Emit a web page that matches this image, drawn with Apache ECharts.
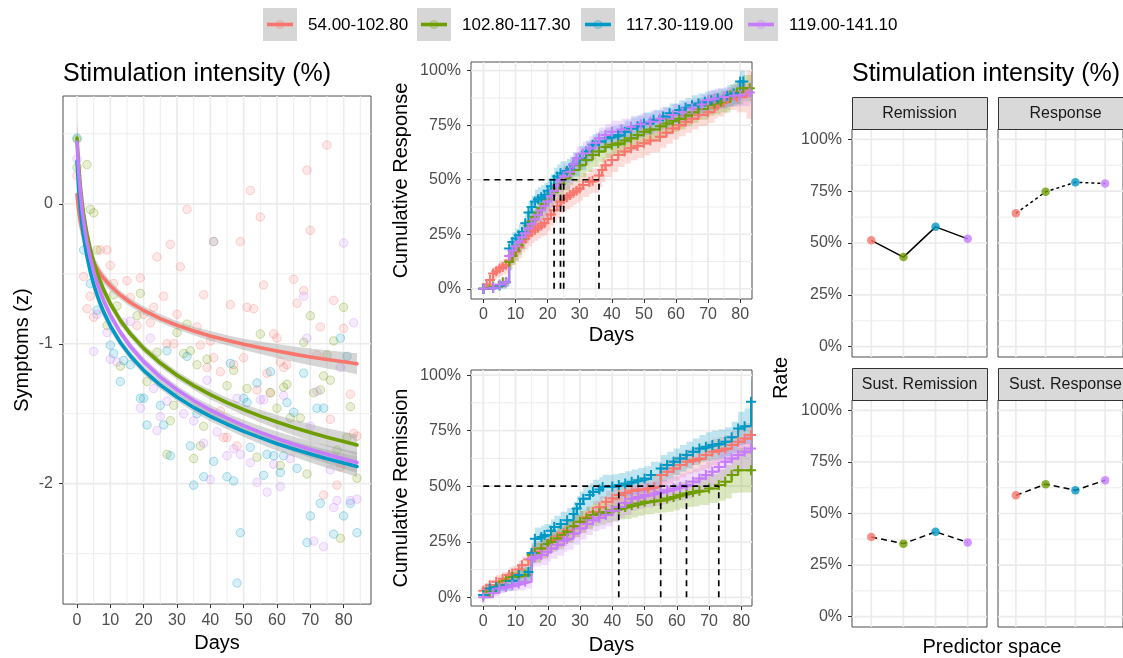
<!DOCTYPE html>
<html><head><meta charset="utf-8">
<script src="https://cdn.jsdelivr.net/npm/echarts@6/dist/echarts.min.js"></script>
<style>html,body{margin:0;padding:0;background:#fff}#c{width:1123px;height:658px}</style>
</head><body><div id="c"></div>
<script>
// ---------------- DATA ----------------
const groups = ['54.00-102.80', '102.80-117.30', '117.30-119.00', '119.00-141.10'];
const facetNames = ['Remission', 'Response', 'Sust. Remission', 'Sust. Response'];
const dayTicks = [0, 10, 20, 30, 40, 50, 60, 70, 80];
const symptomTicks = [-2, -1, 0];
const pctTicks = [0, 0.25, 0.5, 0.75, 1];

// Symptoms scatter [day, z]
const scatterRed = [[0,0.2],[33,-0.04],[7,-0.33],[9,-0.33],[28,-0.29],[24,-0.38],[10,-0.44],[31,-0.45],[2,-0.52],[11,-0.57],[15,-0.55],[19,-0.53],[4,-0.66],[16,-0.67],[26,-0.66],[38,-0.65],[3,-0.75],[23,-0.74],[5,-0.81],[20,-0.79],[30,-0.79],[18,-0.87],[22,-0.85],[36,-0.88],[27,-1.0],[29,-1.0],[40,-0.98],
  [75,0.42],[69,0.24],[52,0.095],[55,-0.095],[70,-0.19],[49,-0.27],[65,-0.54],[56,-0.58],[68,-0.62],[46,-0.72],[51,-0.74],[53,-0.75],[66,-0.71],[77,-0.69],[73,-0.88],[80,-0.89],[59,-0.93],[60,-0.96],
  [37,-1.01],[41,-1.1],[39,-1.17],[43,-1.2],[47,-1.15],[50,-1.1],[54,-1.33],[57,-1.21],[61,-1.13],[62,-1.17],[63,-1.15],[72,-1.08],[58,-1.35],[82,-1.36],[76,-1.54],[43,-1.48],[44,-1.67],[45,-1.67],[48,-1.73],[83,-1.64],[84,-1.66],[79,-1.88],[78,-2.01],[74,-2.08]];
const scatterGreen = [[0,0.46],[3,0.28],[0,0.26],[4,-0.04],[5,-0.065],[6,-0.33],[19,-0.64],[11,-0.65],[12,-0.73],[18,-0.8],[9,-0.87],[30,-0.92],[33,-0.86],[41,-0.27],
  [80,-0.74],[70,-0.8],[55,-0.93],[68,-0.99],[77,-0.98],
  [13,-1.16],[24,-1.06],[32,-1.07],[34,-1.05],[36,-1.15],[39,-1.11],[21,-1.27],[29,-1.44],[28,-1.55],[38,-1.59],[37,-1.73],[27,-1.79],[35,-1.82],
  [47,-1.19],[51,-1.32],[74,-1.23],[76,-1.26],[75,-1.08],[45,-1.3],[58,-1.35],[63,-1.29],[62,-1.31],[71,-1.35],[73,-1.33],[82,-1.45],[60,-1.46],[64,-1.53],[67,-1.53],[81,-1.67],[54,-1.81],[61,-1.87],[69,-1.93],[78,-1.76],[84,-1.96],[79,-2.39]];
const scatterTeal = [[0,0.47],[2,-0.33],[4,-0.57],[6,-0.76],[79,-0.96],
  [10,-1.01],[11,-1.07],[14,-1.12],[16,-1.15],[13,-1.27],[27,-1.05],[33,-1.09],[19,-1.39],[20,-1.39],[25,-1.44],[36,-1.5],[21,-1.58],[26,-1.58],[34,-1.73],[28,-1.8],[41,-1.84],[38,-1.95],[35,-2.01],
  [46,-1.14],[54,-1.28],[58,-1.2],[68,-1.21],[81,-1.09],[72,-1.46],[74,-1.46],[50,-1.39],[51,-1.42],[63,-1.42],[65,-1.49],[52,-1.74],[57,-1.79],[59,-1.8],[61,-1.92],[62,-1.8],[66,-1.89],[45,-1.95],[47,-1.98],[56,-1.94],[73,-2.14],[82,-2.14],[70,-2.23],[80,-2.23],[49,-2.35],[69,-2.42],[77,-2.36],[84,-2.35],[48,-2.71]];
const scatterPurple = [[0,0.32],[6,-0.79],[16,-0.84],[14,-0.85],[9,-0.92],[22,-0.96],[41,-0.27],
  [80,-0.28],[68,-0.66],[83,-0.85],[69,-0.96],
  [5,-1.055],[10,-1.11],[12,-1.13],[39,-1.26],[23,-1.32],[19,-1.46],[27,-1.41],[32,-1.5],[25,-1.52],[24,-1.62],[35,-1.55],[42,-1.63],[38,-1.71],[40,-1.97],
  [79,-1.17],[62,-1.37],[72,-1.34],[48,-1.39],[55,-1.4],[56,-1.4],[70,-1.59],[47,-1.75],[45,-1.8],[49,-1.79],[52,-1.85],[59,-1.86],[64,-1.82],[76,-1.9],[54,-1.99],[61,-2.02],[57,-2.06],[78,-2.12],[77,-2.17],[82,-2.12],[84,-2.11],[71,-2.41],[74,-2.45]];

// Fitted curves
const fitDays = [0,0.5,1,1.5,2,2.5,3,4,5,6,7,8,10,13,16,20,25,30,35,40,45,50,55,60,65,70,75,80,84];
const fitRed = [0.066,-0.044,-0.123,-0.183,-0.233,-0.275,-0.311,-0.372,-0.421,-0.463,-0.500,-0.532,-0.586,-0.652,-0.705,-0.762,-0.820,-0.868,-0.909,-0.944,-0.975,-1.004,-1.029,-1.052,-1.074,-1.094,-1.112,-1.129,-1.143];
const fitGreen = [0.469,0.269,0.127,0.017,-0.073,-0.149,-0.215,-0.325,-0.415,-0.491,-0.557,-0.615,-0.714,-0.833,-0.929,-1.033,-1.138,-1.225,-1.299,-1.363,-1.420,-1.471,-1.517,-1.559,-1.598,-1.634,-1.668,-1.699,-1.723];
const fitTeal = [0.305,0.106,-0.035,-0.145,-0.235,-0.310,-0.376,-0.485,-0.575,-0.650,-0.716,-0.774,-0.872,-0.991,-1.086,-1.190,-1.295,-1.381,-1.455,-1.519,-1.575,-1.626,-1.671,-1.714,-1.752,-1.788,-1.822,-1.852,-1.877];
const fitPurple = [0.44,0.231,0.083,-0.032,-0.126,-0.205,-0.274,-0.389,-0.483,-0.562,-0.631,-0.692,-0.795,-0.919,-1.019,-1.128,-1.238,-1.329,-1.406,-1.473,-1.532,-1.585,-1.633,-1.677,-1.718,-1.755,-1.790,-1.823,-1.848];
const fitBandHalf = [0.12,0.105,0.09,0.08,0.07,0.065,0.06,0.05,0.047,0.045,0.042,0.04,0.035,0.03,0.03,0.03,0.03,0.03,0.03,0.035,0.035,0.04,0.045,0.05,0.055,0.06,0.065,0.07,0.075];

// Cumulative response KM [day, value, band half-width]
const respRed = [[0,0,0.01],[1,0.02,0.02],[2,0.04,0.025],[3,0.07,0.03],[4,0.08,0.03],[5,0.093,0.035],[6,0.1,0.035],[7,0.11,0.04],[8,0.13,0.04],[9,0.154,0.045],[10,0.17,0.045],[11,0.19,0.05],[12,0.216,0.05],[13,0.23,0.05],[14,0.245,0.05],[15,0.26,0.05],[16,0.27,0.05],[17,0.28,0.05],[18,0.29,0.05],[19,0.3,0.055],[20,0.32,0.055],[21,0.34,0.055],[22,0.36,0.055],[23,0.38,0.055],[24,0.4,0.055],[25,0.41,0.055],[26,0.42,0.055],[27,0.43,0.055],[28,0.44,0.055],[29,0.45,0.055],[30,0.46,0.055],[31,0.476,0.055],[33,0.49,0.055],[34,0.495,0.055],[36,0.52,0.055],[37,0.545,0.055],[38,0.567,0.055],[40,0.59,0.055],[42,0.613,0.055],[44,0.63,0.055],[46,0.644,0.055],[48,0.655,0.055],[50,0.667,0.055],[52,0.68,0.055],[55,0.697,0.05],[57,0.715,0.05],[59,0.735,0.05],[61,0.75,0.05],[63,0.766,0.05],[65,0.78,0.05],[67,0.797,0.05],[70,0.81,0.05],[72,0.83,0.05],[73,0.84,0.05],[75,0.855,0.05],[76,0.87,0.05],[79,0.88,0.07],[82,0.9,0.12],[84,0.9,0.12]];
const respGreen = [[0,0,0.01],[3,0.01,0.01],[6,0.03,0.02],[8,0.124,0.04],[9,0.15,0.04],[10,0.175,0.045],[11,0.2,0.045],[12,0.23,0.05],[13,0.26,0.05],[14,0.29,0.05],[15,0.31,0.05],[16,0.33,0.05],[17,0.35,0.05],[18,0.37,0.055],[19,0.39,0.055],[20,0.41,0.055],[21,0.43,0.055],[22,0.445,0.055],[23,0.46,0.055],[24,0.48,0.055],[25,0.506,0.055],[27,0.53,0.055],[28,0.545,0.055],[30,0.567,0.055],[32,0.59,0.055],[34,0.613,0.055],[36,0.63,0.05],[38,0.65,0.05],[40,0.66,0.05],[42,0.667,0.05],[44,0.68,0.05],[46,0.69,0.05],[48,0.705,0.05],[50,0.72,0.05],[52,0.73,0.05],[55,0.745,0.05],[57,0.758,0.05],[59,0.77,0.05],[61,0.78,0.05],[63,0.795,0.05],[65,0.81,0.05],[67,0.825,0.05],[70,0.843,0.05],[72,0.85,0.05],[74,0.858,0.05],[77,0.888,0.05],[79,0.9,0.055],[81,0.92,0.06],[83,0.92,0.06]];
const respTeal = [[0,0,0.01],[3,0.005,0.01],[5,0.015,0.015],[7,0.03,0.02],[8,0.185,0.04],[9,0.215,0.045],[10,0.23,0.045],[11,0.245,0.05],[12,0.26,0.05],[13,0.3,0.05],[14,0.35,0.05],[15,0.375,0.05],[16,0.4,0.055],[17,0.41,0.055],[18,0.42,0.055],[19,0.43,0.055],[20,0.45,0.055],[21,0.47,0.055],[22,0.5,0.055],[23,0.515,0.055],[24,0.53,0.055],[26,0.54,0.055],[27,0.55,0.055],[28,0.57,0.055],[30,0.6,0.055],[32,0.63,0.05],[34,0.66,0.05],[36,0.675,0.05],[38,0.69,0.05],[40,0.697,0.05],[42,0.705,0.05],[44,0.72,0.05],[46,0.735,0.05],[48,0.745,0.05],[50,0.758,0.05],[53,0.775,0.045],[56,0.79,0.045],[58,0.805,0.045],[61,0.82,0.045],[63,0.83,0.045],[65,0.842,0.045],[67,0.85,0.045],[69,0.858,0.045],[71,0.865,0.045],[73,0.873,0.045],[76,0.885,0.05],[78,0.896,0.05],[80,0.95,0.05],[81,0.95,0.05]];
const respPurple = [[0,0,0.01],[3,0.005,0.01],[5,0.02,0.015],[7,0.03,0.02],[8,0.15,0.04],[9,0.175,0.04],[10,0.195,0.045],[11,0.216,0.045],[12,0.235,0.05],[13,0.255,0.05],[14,0.277,0.05],[15,0.297,0.05],[16,0.318,0.05],[17,0.338,0.05],[18,0.36,0.055],[19,0.38,0.055],[20,0.4,0.055],[21,0.425,0.055],[22,0.45,0.055],[23,0.475,0.055],[24,0.5,0.055],[25,0.515,0.055],[27,0.537,0.055],[28,0.57,0.055],[29,0.598,0.055],[31,0.62,0.055],[33,0.644,0.055],[35,0.67,0.05],[36,0.69,0.05],[38,0.705,0.05],[40,0.72,0.05],[43,0.73,0.05],[46,0.743,0.05],[49,0.755,0.05],[52,0.766,0.05],[55,0.78,0.05],[59,0.797,0.05],[62,0.81,0.05],[65,0.827,0.045],[68,0.845,0.045],[70,0.865,0.045],[72,0.872,0.045],[75,0.88,0.045],[78,0.885,0.05],[80,0.888,0.05],[83,0.9,0.05]];
const respMedians = [22, 24, 25, 36];

// Cumulative remission KM [day, value, band half-width]
const remRed = [[0,0.03,0.02],[1,0.04,0.02],[2,0.054,0.025],[4,0.07,0.03],[6,0.084,0.03],[8,0.1,0.035],[9,0.107,0.035],[11,0.125,0.04],[12,0.144,0.04],[14,0.17,0.04],[15,0.2,0.04],[16,0.205,0.045],[18,0.22,0.045],[20,0.24,0.045],[21,0.257,0.045],[23,0.275,0.05],[25,0.29,0.05],[26,0.3,0.05],[28,0.32,0.05],[30,0.34,0.05],[32,0.36,0.05],[34,0.384,0.05],[36,0.405,0.05],[38,0.43,0.05],[40,0.445,0.055],[42,0.46,0.055],[44,0.47,0.055],[46,0.48,0.055],[48,0.485,0.055],[51,0.49,0.055],[53,0.497,0.055],[55,0.55,0.055],[57,0.565,0.055],[59,0.58,0.055],[61,0.595,0.055],[63,0.61,0.055],[65,0.618,0.055],[67,0.625,0.055],[69,0.64,0.06],[71,0.655,0.06],[73,0.662,0.06],[75,0.67,0.06],[77,0.685,0.065],[79,0.7,0.065],[81,0.715,0.07],[83,0.73,0.07]];
const remGreen = [[0,0.01,0.01],[2,0.025,0.015],[4,0.045,0.02],[5,0.054,0.025],[7,0.075,0.03],[9,0.092,0.03],[11,0.096,0.035],[13,0.1,0.035],[15,0.19,0.04],[16,0.2,0.045],[18,0.22,0.045],[20,0.24,0.045],[21,0.25,0.045],[23,0.265,0.05],[25,0.28,0.05],[26,0.294,0.05],[28,0.32,0.05],[30,0.34,0.05],[32,0.355,0.05],[34,0.37,0.05],[36,0.377,0.05],[38,0.384,0.05],[40,0.392,0.05],[42,0.4,0.05],[44,0.407,0.055],[46,0.414,0.055],[48,0.422,0.055],[50,0.43,0.055],[53,0.434,0.055],[55,0.437,0.055],[57,0.445,0.06],[59,0.452,0.06],[61,0.46,0.06],[63,0.467,0.06],[65,0.474,0.065],[67,0.48,0.065],[70,0.49,0.065],[73,0.505,0.07],[75,0.52,0.075],[77,0.55,0.08],[79,0.572,0.1],[83,0.572,0.1]];
const remTeal = [[0,0.01,0.01],[2,0.04,0.02],[4,0.045,0.02],[7,0.054,0.025],[9,0.075,0.03],[11,0.1,0.035],[14,0.114,0.035],[15,0.2,0.045],[16,0.264,0.05],[18,0.272,0.05],[19,0.28,0.05],[21,0.3,0.05],[22,0.317,0.05],[24,0.33,0.055],[26,0.347,0.055],[28,0.375,0.055],[29,0.4,0.055],[30,0.42,0.055],[31,0.444,0.055],[33,0.46,0.055],[34,0.474,0.055],[36,0.485,0.055],[37,0.497,0.055],[40,0.499,0.055],[42,0.505,0.055],[44,0.512,0.055],[46,0.52,0.055],[48,0.527,0.055],[50,0.535,0.055],[52,0.55,0.06],[55,0.58,0.06],[57,0.595,0.06],[59,0.61,0.06],[61,0.625,0.06],[63,0.64,0.06],[65,0.655,0.06],[67,0.67,0.06],[69,0.678,0.065],[71,0.685,0.065],[73,0.69,0.065],[75,0.7,0.065],[77,0.72,0.07],[79,0.76,0.075],[81,0.77,0.08],[83,0.88,0.1]];
const remPurple = [[0,0,0.01],[3,0.02,0.015],[5,0.04,0.02],[7,0.047,0.02],[9,0.054,0.025],[11,0.062,0.03],[13,0.07,0.03],[15,0.174,0.04],[16,0.18,0.04],[18,0.19,0.045],[20,0.205,0.045],[21,0.22,0.045],[23,0.237,0.05],[25,0.255,0.05],[26,0.264,0.05],[28,0.287,0.05],[30,0.31,0.05],[32,0.33,0.05],[34,0.347,0.05],[36,0.358,0.05],[38,0.37,0.05],[40,0.39,0.05],[42,0.407,0.05],[44,0.425,0.055],[46,0.444,0.055],[48,0.452,0.055],[50,0.46,0.055],[53,0.467,0.055],[55,0.474,0.055],[57,0.482,0.055],[59,0.49,0.055],[61,0.497,0.06],[63,0.505,0.06],[65,0.52,0.06],[67,0.535,0.06],[69,0.55,0.06],[71,0.565,0.06],[73,0.587,0.065],[75,0.61,0.065],[77,0.625,0.07],[79,0.64,0.07],[81,0.655,0.075],[83,0.67,0.075]];
const remMedians = [42, 55, 63, 73];

// Facet rates per group
const remissionRates = [0.513, 0.432, 0.578, 0.52];
const responseRates = [0.643, 0.747, 0.793, 0.787];
const sustRemissionRates = [0.386, 0.354, 0.411, 0.36];
const sustResponseRates = [0.588, 0.642, 0.613, 0.661];

// ---------------- STYLE ----------------
const colors = ['#F8766D', '#6F9E00', '#0099C6', '#C77CFF'];
const FONT = "'Liberation Sans', Arial, Helvetica, sans-serif";
function rgba(hex, a) {
  const n = parseInt(hex.slice(1), 16);
  return 'rgba(' + (n >> 16 & 255) + ',' + (n >> 8 & 255) + ',' + (n & 255) + ',' + a + ')';
}
const PLUS = 'path://M4,0L6,0L6,10L4,10Z M0,4L10,4L10,6L0,6Z';

const grids = [
  {left: 63, top: 96, width: 308, height: 511},
  {left: 471, top: 62, width: 281, height: 237},
  {left: 471, top: 370, width: 281, height: 236},
  {left: 852, top: 129, width: 135, height: 228},
  {left: 998, top: 129, width: 135, height: 228},
  {left: 852, top: 400, width: 135, height: 227},
  {left: 998, top: 400, width: 135, height: 227}
];
const ranges = [
  {x: [-4.2, 88.2], y: [-2.86, 0.77]},
  {x: [-3.9, 83.7], y: [-0.047, 1.04]},
  {x: [-3.8, 83.3], y: [-0.039, 1.023]},
  {x: [0.4, 4.6], y: [-0.05, 1.05]},
  {x: [0.4, 4.6], y: [-0.05, 1.05]},
  {x: [0.4, 4.6], y: [-0.05, 1.05]},
  {x: [0.4, 4.6], y: [-0.05, 1.05]}
];

function valAxis(gi, dim, ticks, opt) {
  const r = ranges[gi][dim];
  const o = {
    type: 'value', gridIndex: gi, min: r[0], max: r[1],
    splitLine: {show: false}, minorSplitLine: {show: false},
    axisLine: {show: false, onZero: false},
    axisTick: ticks ? {show: true, length: 4, lineStyle: {color: '#333333', width: 1}, customValues: ticks} : {show: false},
    axisLabel: ticks ? {show: true, customValues: ticks, color: '#4D4D4D', fontSize: 16, fontFamily: FONT, margin: opt.margin, formatter: opt.fmt} : {show: false}
  };
  if (opt.name) {
    Object.assign(o, {name: opt.name, nameLocation: 'middle', nameGap: opt.gap, nameRotate: opt.rot || 0,
      nameTextStyle: {fontSize: 20, color: '#000', fontFamily: FONT}});
  }
  return o;
}
const pctFmt = v => Math.round(v * 100) + '%';
const numFmt = v => String(Math.round(v));

function range(a, b, s) { const out = []; for (let v = a; v <= b + 1e-9; v += s) out.push(+v.toFixed(4)); return out; }

function gridSeries(gi, xMaj, xMin, yMaj, yMin) {
  const data = [];
  xMin.forEach(v => data.push([v, 0, 0]));
  yMin.forEach(v => data.push([v, 1, 0]));
  xMaj.forEach(v => data.push([v, 0, 1]));
  yMaj.forEach(v => data.push([v, 1, 1]));
  const rx = ranges[gi].x, ry = ranges[gi].y;
  return {
    type: 'custom', xAxisIndex: gi, yAxisIndex: gi, z: 1, silent: true, data: data,
    renderItem: function (params, api) {
      const cs = params.coordSys;
      const v = api.value(0), o = api.value(1), m = api.value(2);
      const st = {stroke: '#EBEBEB', lineWidth: m ? 1.7 : 0.9};
      if (o === 0) {
        const x = api.coord([v, ry[0]])[0];
        return {type: 'line', shape: {x1: x, y1: cs.y, x2: x, y2: cs.y + cs.height}, style: st};
      }
      const y = api.coord([rx[0], v])[1];
      return {type: 'line', shape: {x1: cs.x, y1: y, x2: cs.x + cs.width, y2: y}, style: st};
    }
  };
}

const series = [];
// grid lines
series.push(gridSeries(0, dayTicks, range(5, 85, 10), symptomTicks, [-2.5, -1.5, -0.5, 0.5]));
series.push(gridSeries(1, dayTicks, range(5, 75, 10), pctTicks, [0.125, 0.375, 0.625, 0.875]));
series.push(gridSeries(2, dayTicks, range(5, 75, 10), pctTicks, [0.125, 0.375, 0.625, 0.875]));
for (let gi = 3; gi <= 6; gi++) series.push(gridSeries(gi, [1, 2, 3, 4], [], pctTicks, [0.125, 0.375, 0.625, 0.875]));

// Left panel
const scatters = [scatterRed, scatterGreen, scatterTeal, scatterPurple];
const fits = [fitRed, fitGreen, fitTeal, fitPurple];
scatters.forEach((s, g) => series.push({
  type: 'scatter', name: groups[g], xAxisIndex: 0, yAxisIndex: 0, z: 2, data: s, symbolSize: 8.5,
  itemStyle: {color: rgba(colors[g], 0.2), borderColor: rgba(colors[g], 0.38), borderWidth: 1}
}));
fits.forEach((f, g) => series.push({
  type: 'custom', xAxisIndex: 0, yAxisIndex: 0, z: 3, silent: true, clip: true,
  data: [[fitDays[0], f[0]]],
  renderItem: function (params, api) {
    const up = [], lo = [];
    fitDays.forEach((d, i) => { up.push(api.coord([d, f[i] + fitBandHalf[i]])); lo.push(api.coord([d, f[i] - fitBandHalf[i]])); });
    return {type: 'polygon', shape: {points: up.concat(lo.reverse())}, style: {fill: 'rgba(153,153,153,0.4)'}};
  }
}));
fits.forEach((f, g) => series.push({
  type: 'line', name: groups[g], xAxisIndex: 0, yAxisIndex: 0, z: 4, showSymbol: false, smooth: false,
  data: fitDays.map((d, i) => [d, f[i]]),
  lineStyle: {color: colors[g], width: 3.6, cap: 'round', join: 'round'}
}));

// KM panels
function kmPanel(gi, sets, medians) {
  sets.forEach((pts, g) => series.push({
    type: 'custom', xAxisIndex: gi, yAxisIndex: gi, z: 2, silent: true, clip: true,
    data: [[pts[0][0], pts[0][1]]],
    renderItem: function (params, api) {
      const up = [], lo = [];
      for (let i = 0; i < pts.length; i++) {
        const d = pts[i][0], v = pts[i][1], h = pts[i][2];
        const dn = i < pts.length - 1 ? pts[i + 1][0] : d + 0.6;
        const hi = Math.min(v + h, 1), lw = Math.max(v - h, 0);
        up.push(api.coord([d, hi]), api.coord([dn, hi]));
        lo.push(api.coord([d, lw]), api.coord([dn, lw]));
      }
      return {type: 'polygon', shape: {points: up.concat(lo.reverse())}, style: {fill: rgba(colors[g], 0.25)}};
    }
  }));
  sets.forEach((pts, g) => series.push({
    type: 'line', name: groups[g], xAxisIndex: gi, yAxisIndex: gi, z: 3, step: 'end',
    data: pts.map(p => [p[0], p[1]]),
    showSymbol: true, symbol: PLUS, symbolSize: 10,
    itemStyle: {color: colors[g]}, lineStyle: {color: colors[g], width: 2}
  }));
  const mx = Math.max.apply(null, medians);
  const dash = {color: '#000', width: 1.7, type: [6, 5]};
  series.push({type: 'line', xAxisIndex: gi, yAxisIndex: gi, z: 5, showSymbol: false, data: [[0, 0.5], [mx, 0.5]], lineStyle: dash});
  medians.forEach(m => series.push({type: 'line', xAxisIndex: gi, yAxisIndex: gi, z: 5, showSymbol: false, data: [[m, 0], [m, 0.5]], lineStyle: dash}));
}
kmPanel(1, [respRed, respGreen, respTeal, respPurple], respMedians);
kmPanel(2, [remRed, remGreen, remTeal, remPurple], remMedians);

// Facets
const facetRates = [remissionRates, responseRates, sustRemissionRates, sustResponseRates];
const facetLine = ['solid', [3, 3], [6, 4], [6, 4]];
facetRates.forEach((rates, k) => {
  const gi = 3 + k;
  series.push({type: 'line', xAxisIndex: gi, yAxisIndex: gi, z: 3, showSymbol: false,
    data: rates.map((r, i) => [i + 1, r]), lineStyle: {color: '#000', width: 1.5, type: facetLine[k]}});
  series.push({type: 'scatter', xAxisIndex: gi, yAxisIndex: gi, z: 4, symbolSize: 8.5,
    data: rates.map((r, i) => ({value: [i + 1, r], itemStyle: {color: colors[i]}}))});
});

// Axes
const xAxis = [
  valAxis(0, 'x', dayTicks, {margin: 8, fmt: numFmt, name: 'Days', gap: 28}),
  valAxis(1, 'x', dayTicks, {margin: 8, fmt: numFmt, name: 'Days', gap: 26}),
  valAxis(2, 'x', dayTicks, {margin: 8, fmt: numFmt, name: 'Days', gap: 29}),
  valAxis(3, 'x', null, {}), valAxis(4, 'x', null, {}), valAxis(5, 'x', null, {}), valAxis(6, 'x', null, {})
];
const yAxis = [
  valAxis(0, 'y', symptomTicks, {margin: 10, fmt: numFmt, name: 'Symptoms (z)', gap: 31, rot: 90}),
  valAxis(1, 'y', pctTicks, {margin: 10, fmt: pctFmt, name: 'Cumulative Response', gap: 60, rot: 90}),
  valAxis(2, 'y', pctTicks, {margin: 10, fmt: pctFmt, name: 'Cumulative Remission', gap: 60, rot: 90}),
  valAxis(3, 'y', pctTicks, {margin: 10, fmt: pctFmt}),
  valAxis(4, 'y', null, {}),
  valAxis(5, 'y', pctTicks, {margin: 10, fmt: pctFmt}),
  valAxis(6, 'y', null, {})
];

// Graphics: titles, strips, legend
const graphic = [];
function txt(x, y, s, size, extra) {
  return Object.assign({type: 'text', z: 100, style: {text: s, x: x, y: y, font: size + 'px ' + FONT, fill: '#000',
    align: 'left', textAlign: 'left', verticalAlign: 'middle', textVerticalAlign: 'middle'}}, extra || {});
}
graphic.push(txt(63, 74, 'Stimulation intensity (%)', 25));
graphic.push(txt(852, 74, 'Stimulation intensity (%)', 25));
const stripPos = [[852, 97], [998, 97], [852, 368], [998, 368]];
facetNames.forEach((n, k) => {
  const p = stripPos[k];
  graphic.push({type: 'rect', z: 90, shape: {x: p[0] + 0.5, y: p[1] + 0.5, width: 135, height: 32}, style: {fill: '#D9D9D9', stroke: '#333333', lineWidth: 1}});
  const t = txt(p[0] + 67.5, p[1] + 16.5, n, 16);
  t.style.fill = '#1A1A1A'; t.style.align = 'center'; t.style.textAlign = 'center';
  graphic.push(t);
});
const rateT = txt(781, 378, 'Rate', 20, {rotation: Math.PI / 2, x: 781, y: 378});
rateT.style.x = 0; rateT.style.y = 0; rateT.style.align = 'center'; rateT.style.textAlign = 'center';
graphic.push(rateT);
const ps = txt(992, 647, 'Predictor space', 20);
ps.style.align = 'center'; ps.style.textAlign = 'center';
graphic.push(ps);

const legendBoxX = [263, 417, 581, 744];
groups.forEach((g, i) => {
  const x = legendBoxX[i];
  graphic.push({type: 'rect', z: 90, shape: {x: x, y: 8, width: 34, height: 33}, style: {fill: '#D6D6D6'}});
  graphic.push({type: 'circle', z: 91, shape: {cx: x + 17, cy: 24.5, r: 4}, style: {fill: rgba(colors[i], 0.2), stroke: rgba(colors[i], 0.35)}});
  graphic.push({type: 'line', z: 92, shape: {x1: x + 4, y1: 24.5, x2: x + 30, y2: 24.5}, style: {stroke: colors[i], lineWidth: 3.6}});
  graphic.push(txt(x + 45, 25, g, 17));
});

const chart = echarts.init(document.getElementById('c'), null, {renderer: 'canvas'});
chart.setOption({
  animation: false,
  backgroundColor: '#fff',
  textStyle: {fontFamily: FONT},
  grid: grids.map(g => Object.assign({show: true, borderColor: '#4D4D4D', borderWidth: 1, backgroundColor: '#fff'}, g)),
  xAxis: xAxis, yAxis: yAxis, series: series, graphic: graphic
});
</script></body></html>
